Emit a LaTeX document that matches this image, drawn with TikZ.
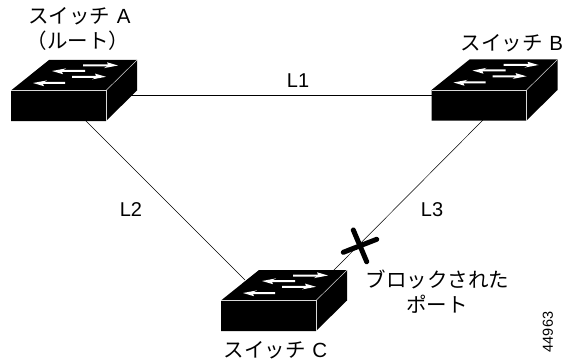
\documentclass[tikz,border=0pt]{standalone}
\usepackage{fontspec}
\setmainfont{Liberation Sans}
\newfontfamily\jpfont{Noto Sans CJK JP}
\newcommand{\swname}[1]{{\jpfont スイッチ}\hspace{6.5pt}#1}
\newcommand{\swrarrow}[3]{\fill[white] (#1,#3-1) -- (#2-10,#3-1) -- (#2-11,#3-3.2) -- (#2,#3) -- (#2-14,#3+2.6) -- (#2-11,#3+1) -- (#1,#3+1) -- cycle;}
\newcommand{\swlarrow}[3]{\fill[white] (#1,#3+1) -- (#2+10,#3+1) -- (#2+11,#3+3.2) -- (#2,#3) -- (#2+14,#3-2.6) -- (#2+11,#3-1) -- (#1,#3-1) -- cycle;}
\newcommand{\swdraw}[1]{%
\begin{scope}[shift={(#1)}]
  \fill[black] (0,0) -- (38,-30.5) -- (126,-30.5) -- (126,0) -- (95,30.5) -- (0,30.5) -- cycle;
  \draw[edgeline] (0,0) -- (95,0) -- (95,30.5);
  \draw[edgeline] (95,0) -- (126,-30.5);
  \swrarrow{72}{107}{-25}
  \swlarrow{74}{41}{-19.5}
  \swrarrow{61}{95}{-13.7}
  \swlarrow{54}{22}{-7.5}
\end{scope}}
\tikzset{
  x=1pt,y=-1pt,
  link/.style={draw=black,line width=0.5pt},
  edgeline/.style={draw=white!85!black,line width=0.5pt},
  lbl/.style={inner sep=0pt,font=\fontsize{20}{22}\selectfont},
  jp/.style={inner sep=0pt,font=\fontsize{20.5}{22}\selectfont\jpfont},
  sw/.style={inner sep=0pt,font=\fontsize{20.5}{22}\selectfont},
  crossbar/.style={line width=5pt,line cap=round,black},
}
\begin{document}
\begin{tikzpicture}
\useasboundingbox (0,0) rectangle (565,361);
\coordinate (Aport) at (80,115);
\coordinate (Ahub) at (80,95);
\coordinate (Bport) at (483,120);
\coordinate (Bhub) at (480,95);
\coordinate (Cleft) at (245,280);
\coordinate (Cright) at (332,272);
\draw[link] (Ahub) -- (Bhub);
\draw[link] (Aport) -- (Cleft);
\draw[link] (Bport) -- (Cright);
\swdraw{11,90.5}
\swdraw{431.5,90}
\swdraw{221,300.5}
\coordinate (Xa) at (343.3,252.3);
\coordinate (Xb) at (376.7,239.3);
\coordinate (Xc) at (353.3,230);
\coordinate (Xd) at (366.7,261.7);
\draw[crossbar] (Xa) -- (Xb);
\draw[crossbar] (Xc) -- (Xd);
\node[sw] (ta) at (79.5,16) {\swname{A}};
\node[jp] (tar) at (78,41) {（ルート）};
\node[sw] (tb) at (512,43) {\swname{B}};
\node[sw] (tc) at (275.5,350) {\swname{C}};
\node[lbl] (l1) at (298,81) {L1};
\node[lbl] (l2) at (131,210) {L2};
\node[lbl] (l3) at (432,210) {L3};
\node[jp] (b1) at (437.5,279) {ブロックされた};
\node[jp] (b2) at (437,304) {ポート};
\node[inner sep=0pt,rotate=90,font=\fontsize{14.5}{15}\selectfont] (num) at (548,332) {44963};
\end{tikzpicture}
\end{document}
